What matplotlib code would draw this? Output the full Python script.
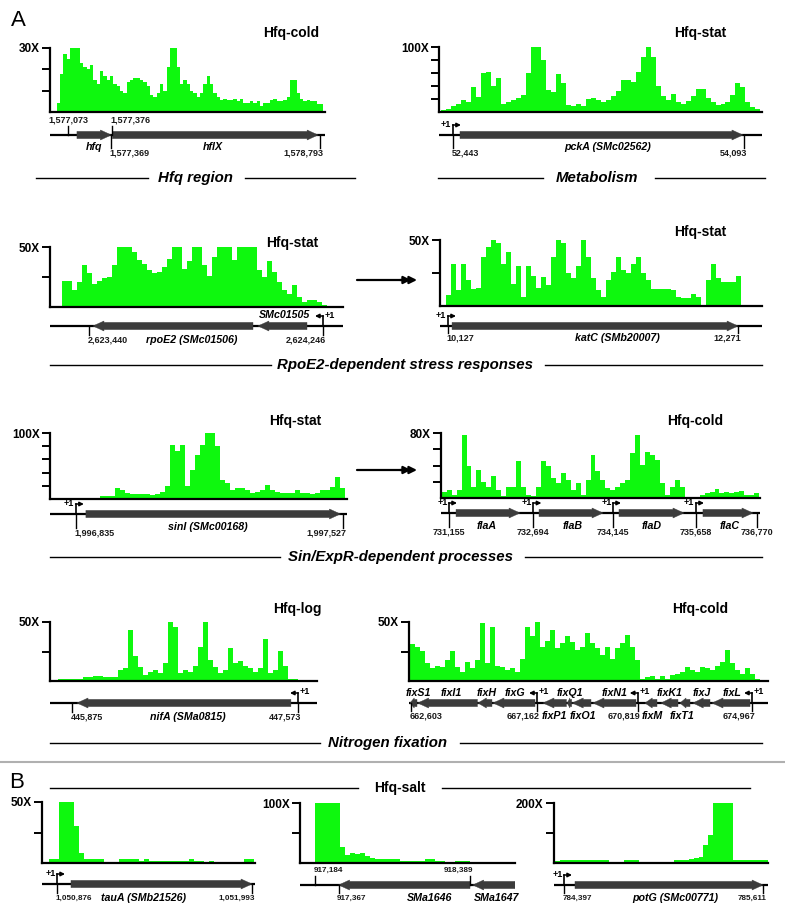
import numpy as np
import matplotlib
matplotlib.use("Agg")
from matplotlib import pyplot as plt
from matplotlib.patches import Polygon

plt.rcParams['font.family'] = ['Liberation Sans', 'DejaVu Sans']

W, H = 785, 915
GREEN = '#0ef80e'
GENE = '#3c3c3c'

# ---------------- coverage (X) ----------------
cov_hfq = [4, 18, 27, 25, 30, 30, 30, 23, 21, 20, 22, 15, 13, 19, 17, 15, 17, 13, 12, 10,
           9, 14, 15, 16, 16, 15, 14, 12, 8, 7, 9, 13, 10, 21, 30, 30, 21, 13, 15, 13,
           10, 9, 7, 9, 13, 17, 13, 9, 7, 5.5, 6, 5.5, 5.5, 6, 5, 6, 4, 4, 5, 4,
           5, 3, 4, 4, 5.5, 6, 5, 5, 5.5, 7, 15, 15, 9, 6, 5, 5.5, 5, 5, 3.6, 3.6]
cov_pcka = [3, 5, 9, 12, 18, 15, 39, 23, 60, 62, 40, 52, 12, 15, 19, 21, 26, 60, 100, 100,
            80, 34, 31, 58, 44, 11, 9, 12, 10, 20, 22, 19, 16, 19, 24, 32, 50, 49, 46, 62,
            85, 100, 85, 40, 24, 19, 28, 16, 13, 17, 24, 36, 35, 22, 16, 11, 12, 16, 26, 45,
            39, 15, 8, 4]
cov_rpoe2 = [22, 22, 14, 21, 35, 28, 19, 22, 24, 25, 35, 50, 50, 50, 46, 39, 36, 31, 28, 29,
             33, 40, 50, 50, 32, 38, 50, 50, 35, 26, 42, 50, 50, 50, 39, 50, 50, 50, 50, 31,
             25, 38, 29, 21, 14, 11, 18, 8, 4, 6, 6, 4, 2]
cov_katc = [8, 32, 12, 32, 20, 13, 14, 37, 45, 50, 48, 32, 41, 17, 30, 7, 30, 23, 14, 22,
            16, 37, 50, 48, 25, 21, 30, 50, 37, 21, 12, 7, 20, 26, 37, 27, 25, 32, 37, 25,
            20, 13, 13, 13, 13, 12, 7, 6, 6, 9, 7, 1, 20, 32, 21, 18, 18, 18, 23]
cov_sini = [4, 5, 5, 16, 14, 9, 8, 8, 8, 8, 6, 7, 11, 19, 82, 72, 82, 19, 44, 67,
            82, 100, 100, 80, 29, 24, 14, 16, 16, 14, 9, 10, 14, 21, 14, 11, 9, 9, 9, 13,
            9, 9, 8, 9, 13, 14, 18, 34, 16]
cov_fla = [8, 10, 4, 10, 78, 39, 14, 35, 20, 14, 27, 10, 2, 14, 14, 45, 14, 4, 2, 14,
           45, 39, 25, 18, 31, 22, 10, 18, 4, 22, 53, 33, 22, 12, 10, 14, 18, 22, 55, 78,
           41, 57, 53, 47, 18, 4, 14, 22, 14, 0, 0, 0, 4, 6, 7, 11, 6, 7, 6, 7,
           9, 4, 4, 6]
cov_nifa = [2, 2, 2, 2, 2, 3, 3, 4, 4, 3, 3, 3, 9, 11, 43, 21, 12, 5, 8, 9,
            7, 15, 50, 46, 7, 9, 8, 13, 29, 50, 18, 12, 7, 9, 28, 15, 17, 13, 11, 8,
            11, 36, 7, 9, 25, 13, 2, 2, 1]
cov_fix = [31, 29, 25, 15, 11, 13, 12, 18, 25, 12, 8, 16, 11, 18, 49, 15, 46, 13, 12, 9,
           11, 8, 19, 46, 38, 50, 29, 34, 43, 28, 32, 38, 33, 26, 29, 41, 32, 28, 22, 29,
           19, 28, 32, 39, 29, 18, 2, 3, 4, 2, 4, 2, 5, 6, 8, 12, 9, 8, 12, 11,
           9, 13, 16, 26, 15, 9, 6, 11, 6, 2, 1]
cov_taua = [3, 3, 50, 50, 50, 30, 8, 3, 3, 3, 3, 0, 0, 0, 3, 3, 3, 3, 2, 3,
            2, 2, 2, 2, 2, 2, 2, 2, 3, 2, 2, 0, 2, 0, 0, 0, 0, 0, 0, 3, 3]
cov_sma = [100, 100, 100, 100, 100, 27, 13, 16, 15, 17, 11, 9, 7, 7, 7, 6, 6, 4, 4, 4,
           3, 3, 7, 7, 4, 3, 2, 2, 3, 4, 3, 1]
cov_potg = [6, 9, 11, 11, 11, 11, 11, 11, 11, 11, 11, 0, 0, 0, 9, 11, 9, 0, 0, 0,
            0, 0, 0, 0, 9, 11, 9, 14, 16, 20, 61, 94, 200, 200, 200, 200, 11, 9, 9, 9,
            9, 9, 9]

# genomic span of each coverage track and of each window (bp)
span_hfq, view_hfq = (1576996, 1578815), (1576950, 1578827)
span_pcka, view_pcka = (52376, 54186), (52364, 54195)
span_rpoe2, view_rpoe2 = (2623346, 2624259), (2623306, 2624315)
span_katc, view_katc = (10115, 12290), (10068, 12448)
span_sini, view_sini = (1996897, 1997532), (1996768, 1997537)
span_fla, view_fla = (731022, 736810), (731009, 736825)
span_nifa, view_nifa = (445772, 447613), (445710, 447716)
span_fix, view_fix = (662552, 675438), (662516, 675547)
span_taua, view_taua = (1050832, 1052006), (1050790, 1052010)
span_sma, view_sma = (917184, 918428), (917067, 918739)
span_potg, view_potg = (784342, 785640), (784336, 785641)

# genes: name, start, end, strand, label position, label side
genes_hfq = [('hfq', 1577134, 1577369, 1, 1577251, 'below'),
             ('hflX', 1577376, 1578780, 1, 1578063, 'below')]
genes_pcka = [('pckA (SMc02562)', 52483, 54087, 1, 53322, 'below')]
genes_rpoe2 = [('rpoE2 (SMc01506)', 2623454, 2624005, -1, 2623795, 'below'),
               ('SMc01505', 2624022, 2624191, -1, 2624112, 'above')]
genes_katc = [('katC (SMb20007)', 10157, 12271, 1, 11376, 'below')]
genes_sini = [('sinI (SMc00168)', 1996861, 1997520, 1, 1997177, 'below')]
genes_fla = [('flaA', 731283, 732450, 1, 731848, 'below'),
             ('flaB', 732796, 733963, 1, 733416, 'below'),
             ('flaD', 734254, 735439, 1, 734856, 'below'),
             ('flaC', 735785, 736697, 1, 736278, 'below')]
genes_nifa = [('nifA (SMa0815)', 445913, 447520, -1, 446747, 'below')]
genes_fix = [('fixS1', 662552, 662806, -1, 662842, 'above'),
             ('fixI1', 662830, 665000, -1, 664040, 'above'),
             ('fixH', 665020, 665528, -1, 665347, 'above'),
             ('fixG', 665565, 667090, -1, 666363, 'above'),
             ('fixP1', 667380, 668230, -1, 667779, 'below'),
             ('fixQ1', 668260, 668420, -1, 668360, 'above'),
             ('fixO1', 668440, 669122, -1, 668832, 'below'),
             ('fixN1', 669195, 670756, -1, 669993, 'above'),
             ('fixM', 671082, 671518, -1, 671337, 'below'),
             ('fixK1', 671663, 672280, -1, 671990, 'above'),
             ('fixT1', 672353, 672716, -1, 672426, 'below'),
             ('fixJ', 672825, 673442, -1, 673152, 'above'),
             ('fixL', 673515, 674894, -1, 674241, 'above')]
genes_taua = [('tauA (SMb21526)', 1050956, 1051993, 1, 1051369, 'below')]
genes_sma = [('SMa1646', 917367, 918389, -1, 918078, 'below'),
             ('SMa1647', 918410, 918739, -1, 918599, 'below')]
genes_potg = [('potG (SMc00771)', 784464, 785611, 1, 785074, 'below')]

# transcription start sites (+1): position, direction
tss_hfq = []
tss_pcka = [(52443, 1)]
tss_rpoe2 = [(2624246, -1)]
tss_katc = [(10127, 1)]
tss_sini = [(1996835, 1)]
tss_fla = [(731155, 1), (732694, 1), (734145, 1), (735658, 1)]
tss_nifa = [(447573, -1)]
tss_fix = [(667162, -1), (670819, -1), (674967, -1)]
tss_taua = [(1050876, 1)]
tss_sma = []
tss_potg = [(784397, 1)]

# labelled coordinates: position, side, alignment
pos_hfq = [(1577073, 'up', 'center'), (1577376, 'up', 'left'),
           (1577369, 'down', 'left'), (1578793, 'down', 'right')]
pos_pcka = [(52443, 'down', 'left'), (54093, 'down', 'right')]
pos_rpoe2 = [(2623440, 'down', 'left'), (2624246, 'down', 'right')]
pos_katc = [(10127, 'down', 'left'), (12271, 'down', 'right')]
pos_sini = [(1996835, 'down', 'left'), (1997527, 'down', 'right')]
pos_fla = [(731155, 'down', 'center'), (732694, 'down', 'center'), (734145, 'down', 'center'),
           (735658, 'down', 'center'), (736770, 'down', 'center')]
pos_nifa = [(445875, 'down', 'left'), (447573, 'down', 'right')]
pos_fix = [(662603, 'down', 'left'), (667162, 'down', 'right'),
           (670819, 'down', 'right'), (674967, 'down', 'right')]
pos_taua = [(1050876, 'down', 'left'), (1051993, 'down', 'right')]
pos_sma = [(917184, 'up', 'left'), (918389, 'up', 'right'), (917367, 'down', 'left')]
pos_potg = [(784397, 'down', 'left'), (785611, 'down', 'right')]

# ---------------- layout (pixels) ----------------
panels = [
    dict(cov=cov_hfq, span=span_hfq, view=view_hfq, genes=genes_hfq, tss=tss_hfq, pos=pos_hfq,
         ymax=30, yt=[10, 20, 30], box=(50, 325, 48, 112, 135), pdy=-18, gdy=-12, fs=6.5,
         title=('Hfq-cold', 291, 33)),
    dict(cov=cov_pcka, span=span_pcka, view=view_pcka, genes=genes_pcka, tss=tss_pcka, pos=pos_pcka,
         ymax=100, yt=[20, 40, 60, 80, 100], box=(439, 762, 47, 112, 135), pdy=-18, gdy=-12, fs=6.5,
         title=('Hfq-stat', 700, 33)),
    dict(cov=cov_rpoe2, span=span_rpoe2, view=view_rpoe2, genes=genes_rpoe2, tss=tss_rpoe2, pos=pos_rpoe2,
         ymax=50, yt=[25, 50], box=(50, 343, 247, 307, 326), pdy=-14, gdy=-14, fs=6.5,
         title=('Hfq-stat', 292, 243)),
    dict(cov=cov_katc, span=span_katc, view=view_katc, genes=genes_katc, tss=tss_katc, pos=pos_katc,
         ymax=50, yt=[25, 50], box=(440, 762, 240, 306, 326), pdy=-12, gdy=-12, fs=6.5,
         title=('Hfq-stat', 700, 232)),
    dict(cov=cov_sini, span=span_sini, view=view_sini, genes=genes_sini, tss=tss_sini, pos=pos_sini,
         ymax=100, yt=[20, 40, 60, 80, 100], box=(50, 347, 433, 499, 514), pdy=-19, gdy=-13, fs=6.5,
         title=('Hfq-stat', 295, 421)),
    dict(cov=cov_fla, span=span_fla, view=view_fla, genes=genes_fla, tss=tss_fla, pos=pos_fla,
         ymax=80, yt=[20, 40, 60, 80], box=(441, 760, 433, 498, 513), pdy=-19, gdy=-13, fs=6.5,
         title=('Hfq-cold', 695, 421)),
    dict(cov=cov_nifa, span=span_nifa, view=view_nifa, genes=genes_nifa, tss=tss_nifa, pos=pos_nifa,
         ymax=50, yt=[25, 50], box=(50, 317, 622, 681, 703), pdy=-14, gdy=-14, fs=6.5,
         title=('Hfq-log', 297, 609)),
    dict(cov=cov_fix, span=span_fix, view=view_fix, genes=genes_fix, tss=tss_fix, pos=pos_fix,
         ymax=50, yt=[25, 50], box=(409, 768, 622, 681, 703), pdy=-13, gdy=-13, fs=6.5,
         title=('Hfq-cold', 700, 609)),
    dict(cov=cov_taua, span=span_taua, view=view_taua, genes=genes_taua, tss=tss_taua, pos=pos_taua,
         ymax=50, yt=[25, 50], box=(42, 255, 802, 863, 884), pdy=-14, gdy=-14, fs=5.9, title=None),
    dict(cov=cov_sma, span=span_sma, view=view_sma, genes=genes_sma, tss=tss_sma, pos=pos_sma,
         ymax=100, yt=[50, 100], box=(300, 515, 803, 863, 885), pdy=-13, gdy=-13, fs=5.9, title=None),
    dict(cov=cov_potg, span=span_potg, view=view_potg, genes=genes_potg, tss=tss_potg, pos=pos_potg,
         ymax=200, yt=[100, 200], box=(554, 768, 803, 863, 885), pdy=-13, gdy=-13, fs=5.9, title=None),
]

sections = [
    ('Hfq region', 195, 178, (36, 148), (245, 355)),
    ('Metabolism', 597, 178, (438, 543), (655, 765)),
    ('RpoE2-dependent stress responses', 405, 365, (50, 271), (545, 762)),
    ('Sin/ExpR-dependent processes', 400, 557, (50, 280), (525, 762)),
    ('Nitrogen fixation', 388, 743, (50, 320), (460, 762)),
]

fig = plt.figure(figsize=(W / 100, H / 100), dpi=100)

# overlay in pixel coordinates for titles, separators and arrows
ov = fig.add_axes([0, 0, 1, 1])
ov.set_xlim(0, W)
ov.set_ylim(H, 0)
ov.axis('off')


def gene_poly(s, e, strand, bpp):
    t, hh = 3.6, 5.0
    hl = min(11 * bpp, (e - s) * 0.6)
    if strand > 0:
        pts = [(s, -t), (e - hl, -t), (e - hl, -hh), (e, 0), (e - hl, hh), (e - hl, t), (s, t)]
    else:
        pts = [(e, -t), (s + hl, -t), (s + hl, -hh), (s, 0), (s + hl, hh), (s + hl, t), (e, t)]
    return Polygon(pts, closed=True, facecolor=GENE, edgecolor=GENE, lw=0.3, zorder=3)


for p in panels:
    x0, x1, ytop, ybot, ytr = p['box']
    v0, v1 = p['view']
    bpp = (v1 - v0) / (x1 - x0)

    # coverage
    cax = fig.add_axes([x0 / W, 1 - ybot / H, (x1 - x0) / W, (ybot - ytop) / H])
    vals = np.minimum(np.array(p['cov'], dtype=float), p['ymax'])
    edges = np.linspace(p['span'][0], p['span'][1], len(vals) + 1)
    cax.fill_between(edges, np.append(vals, vals[-1]), step='post', color=GREEN, lw=0)
    cax.set_xlim(v0, v1)
    cax.set_ylim(0, p['ymax'])
    for side in ('top', 'right'):
        cax.spines[side].set_visible(False)
    for side in ('left', 'bottom'):
        cax.spines[side].set_linewidth(1.6)
    cax.set_xticks([])
    cax.set_yticks(p['yt'])
    cax.set_yticklabels([''] * (len(p['yt']) - 1) + ['%dX' % p['ymax']],
                        fontsize=8.5, fontweight='bold')
    cax.tick_params(axis='y', direction='out', length=6, width=1.4, pad=1.5)
    cax.patch.set_alpha(0)

    if p['title']:
        ov.text(p['title'][1], p['title'][2], p['title'][0], ha='center', va='center',
                fontsize=10, fontweight='bold')

    # gene track
    tax = fig.add_axes([x0 / W, 1 - (ytr + 25) / H, (x1 - x0) / W, 50 / H])
    tax.set_xlim(v0, v1)
    tax.set_ylim(-25, 25)
    tax.axis('off')
    tax.axhline(0, color='black', lw=1.6, zorder=2)

    for name, s, e, strand, lx, lside in p['genes']:
        tax.add_patch(gene_poly(s, e, strand, bpp))
        ly = p['gdy'] if lside == 'below' else 10.5
        tax.text(lx, ly, name, ha='center', va='center', fontsize=7.7,
                 fontweight='bold', fontstyle='italic')

    for bp, d in p['tss']:
        tax.plot([bp, bp], [0, 10], color='black', lw=1.2, zorder=4)
        tax.annotate('', xy=(bp + d * 8 * bpp, 10), xytext=(bp - d * 0.3 * bpp, 10),
                     arrowprops=dict(arrowstyle='-|>', color='black', lw=1.1,
                                     mutation_scale=6, shrinkA=0, shrinkB=0), zorder=4)
        if d > 0:
            tax.text(bp - 1.5 * bpp, 10.5, '+1', ha='right', va='center', fontsize=6.5,
                     fontweight='bold')
        else:
            tax.text(bp + 1.5 * bpp, 11, '+1', ha='left', va='center', fontsize=6.5,
                     fontweight='bold')

    for bp, side, ha in p['pos']:
        if side == 'up':
            tax.plot([bp, bp], [0, 9], color='black', lw=1.0, zorder=4)
            ly = 15
        else:
            ly = p['pdy']
            tax.plot([bp, bp], [0, -(abs(ly) - 5)], color='black', lw=1.0, zorder=4)
        tx = bp
        if ha == 'left':
            tx = bp - 1.5 * bpp
        elif ha == 'right':
            tx = bp + 3 * bpp
        tax.text(tx, ly, '{:,}'.format(bp), ha=ha, va='center', fontsize=p['fs'],
                 fontweight='bold', color='#1a1a1a')

# section titles with rules
for text, cx, cy, l1, l2 in sections:
    ov.text(cx, cy, text, ha='center', va='center', fontsize=10.8,
            fontweight='bold', fontstyle='italic')
    ov.plot(l1, [cy, cy], color='black', lw=1.0)
    ov.plot(l2, [cy, cy], color='black', lw=1.0)

# panel B header
ov.text(400, 788, 'Hfq-salt', ha='center', va='center', fontsize=10, fontweight='bold')
ov.plot([50, 358], [788, 788], color='black', lw=1.0)
ov.plot([442, 750], [788, 788], color='black', lw=1.0)

# separator between A and B
ov.plot([0, W], [762, 762], color='#b0b0b0', lw=1.5)

# panel letters
ov.text(18, 20, 'A', ha='center', va='center', fontsize=16)
ov.text(17, 783, 'B', ha='center', va='center', fontsize=16)

# double-headed link arrows
for ay in (280, 470):
    ov.annotate('', xy=(417, ay), xytext=(357, ay),
                arrowprops=dict(arrowstyle='-|>', color='black', lw=1.6,
                                mutation_scale=11, shrinkA=0, shrinkB=0))
    ov.annotate('', xy=(411, ay), xytext=(400, ay),
                arrowprops=dict(arrowstyle='-|>', color='black', lw=1.6,
                                mutation_scale=11, shrinkA=0, shrinkB=0))

fig.savefig('out.png', dpi=100)
